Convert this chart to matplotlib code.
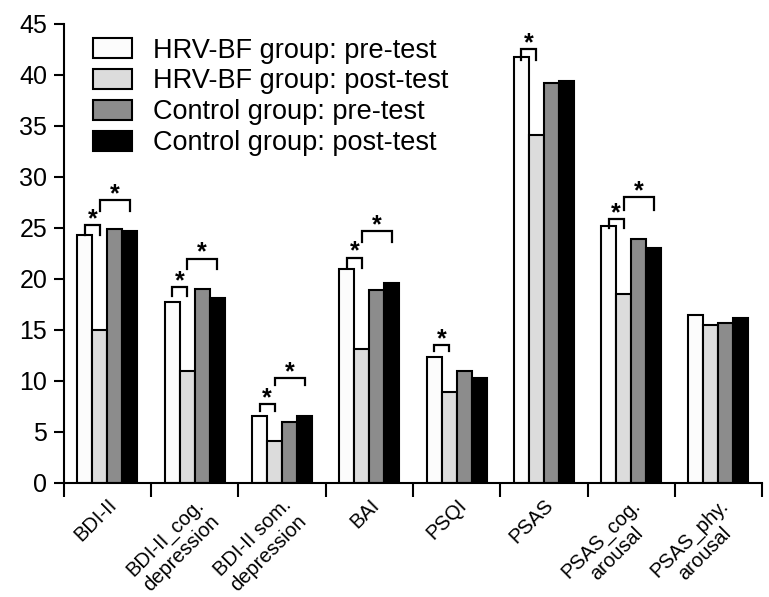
import numpy as np
import matplotlib.pyplot as plt

plt.rcParams['font.family'] = ['Liberation Sans', 'DejaVu Sans']

# data
categories = ['BDI-II', 'BDI-II_cog.\ndepression', 'BDI-II som.\ndepression', 'BAI',
              'PSQI', 'PSAS', 'PSAS_cog.\narousal', 'PSAS_phy.\narousal']
series_names = ['HRV-BF group: pre-test', 'HRV-BF group: post-test',
                'Control group: pre-test', 'Control group: post-test']
hrv_pre = [24.3, 17.7, 6.6, 21.0, 12.3, 41.8, 25.2, 16.5]
hrv_post = [15.0, 11.0, 4.1, 13.1, 8.9, 34.1, 18.5, 15.5]
ctrl_pre = [24.9, 19.0, 6.0, 18.9, 11.0, 39.2, 23.9, 15.7]
ctrl_post = [24.7, 18.1, 6.6, 19.6, 10.3, 39.4, 23.0, 16.2]
colors = ['#fcfcfc', '#dcdcdc', '#8c8c8c', '#000000']

# significance brackets: (category, first bar, second bar, bracket top, leg drop)
brackets = [
    (0, 0, 1, 25.3, 1.0), (0, 1, 3, 27.7, 1.0),
    (1, 0, 1, 19.2, 0.9), (1, 1, 3, 22.0, 1.0),
    (2, 0, 1, 7.7, 0.6), (2, 1, 3, 10.3, 0.7),
    (3, 0, 1, 22.1, 1.0), (3, 1, 3, 24.7, 1.1),
    (4, 0, 1, 13.55, 0.6),
    (5, 0, 1, 42.5, 1.0),
    (6, 0, 1, 25.9, 0.9), (6, 1, 3, 28.0, 1.2),
]

fig = plt.figure(figsize=(7.69, 5.97), dpi=100)
ax = fig.add_axes([0.083, 0.191, 0.908, 0.769])

x = np.arange(len(categories))
w = 0.172
offsets = [-1.5 * w, -0.5 * w, 0.5 * w, 1.5 * w]
all_series = [hrv_pre, hrv_post, ctrl_pre, ctrl_post]
for vals, off, c, name in zip(all_series, offsets, colors, series_names):
    ax.bar(x + off, vals, w, color=c, edgecolor='black', linewidth=1.5, label=name)

# brackets with stars
for cat, i, j, top, drop in brackets:
    x1 = cat + offsets[i]
    x2 = cat + offsets[j]
    ax.plot([x1, x1, x2, x2], [top - drop, top, top, top - drop], color='black', lw=1.6,
            solid_joinstyle='miter', clip_on=False)
    ax.text((x1 + x2) / 2, top - 0.6, '*', ha='center', va='bottom', fontsize=18,
            fontweight='bold')

ax.set_xlim(-0.5, len(categories) - 0.5)
ax.set_ylim(0, 45)
ax.set_yticks(range(0, 46, 5))
ax.tick_params(axis='y', labelsize=18, direction='out', length=7, width=1.5, pad=5)
ax.set_xticks(x)
ax.set_xticklabels(categories, rotation=45, ha='right', rotation_mode='anchor',
                   fontsize=14.5, multialignment='center')
ax.tick_params(axis='x', which='major', length=0, pad=9)
ax.set_xticks(np.arange(-0.5, len(categories), 1), minor=True)
ax.tick_params(axis='x', which='minor', direction='out', length=10, width=1.5)
for s in ['top', 'right']:
    ax.spines[s].set_visible(False)
for s in ['left', 'bottom']:
    ax.spines[s].set_linewidth(1.5)

ax.legend(loc='upper left', bbox_to_anchor=(0.121, 0.937), bbox_transform=fig.transFigure,
          frameon=False, fontsize=19.5, handlelength=1.42, handleheight=0.74,
          labelspacing=0.18, handletextpad=0.8, borderaxespad=0, borderpad=0)

fig.savefig('out.png')
